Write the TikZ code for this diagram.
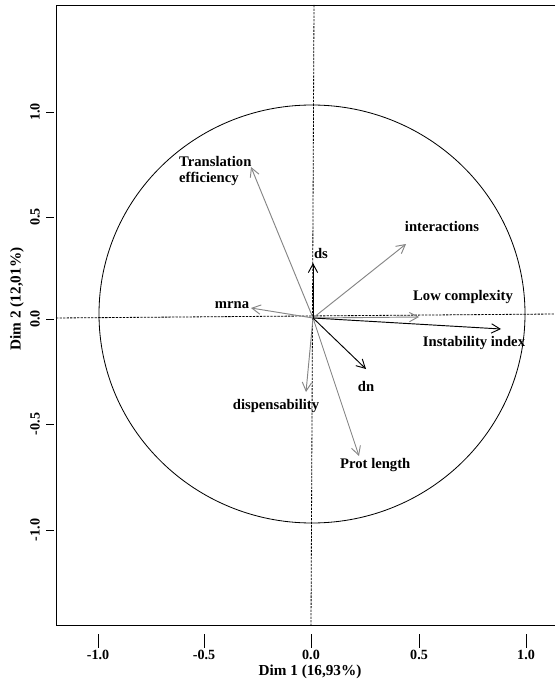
\documentclass[tikz,border=0pt]{standalone}
\usepackage{fontspec}
\setmainfont{Liberation Serif}
\usetikzlibrary{arrows, arrows.meta, positioning}
\tikzset{>={Straight Barb[length=2.6mm,width=2.8mm]}}
\tikzset{
  varlabel/.style={font=\bfseries\fontsize{12.5}{14}\selectfont, inner sep=0pt},
  varblack/.style={->, line width=0.8pt, black},
  vargray/.style={->, line width=0.8pt, black!48},
  axisdash/.style={dash pattern=on 2pt off 1pt, line width=0.7pt},
  ticklabel/.style={font=\bfseries\fontsize{12}{12}\selectfont, inner sep=0pt},
}

\begin{document}
\begin{tikzpicture}[x=0.03cm, y=-0.03cm]
    \useasboundingbox (0,0) rectangle (555,682);
    % box and axes through the origin
    \draw[line width=0.7pt] (555,5) -- (56,5) -- (56,625) -- (555,625);
    \draw[axisdash] (56,318) -- (555,314);
    \draw[axisdash] (314,5) -- (311,625);
    \draw[line width=0.7pt] (312,314) ellipse (213 and 209);
    % ticks
    \foreach \x/\t [count=\i] in {98/-1.0,204/-0.5,311/0.0,419/0.5,526/1.0}
    {
        \draw[line width=0.7pt] (\x,634) -- (\x,648);
        \node[ticklabel] (xtick\i) at (\x,655) {\t};
    }
    \foreach \y/\t [count=\i] in {112/1.0,217/0.5,319/0.0,424/-0.5,530/-1.0}
    {
        \draw[line width=0.7pt] (46,\y) -- (54,\y);
        \node[ticklabel, rotate=90] (ytick\i) at (35,\y) {\t};
    }
    \node[font=\bfseries\fontsize{13}{13}\selectfont, inner sep=0pt] (xtitle) at (310,672) {Dim 1 (16,93\%)};
    \node[font=\bfseries\fontsize{13}{13}\selectfont, inner sep=0pt, rotate=90] (ytitle) at (17,299) {Dim 2 (12,01\%)};
    % variables
    \coordinate (o) at (313,318);
    \coordinate (te) at (251,167);
    \coordinate (int) at (406,244);
    \coordinate (lc) at (419,317);
    \coordinate (mrna) at (251,308);
    \coordinate (disp) at (306,392);
    \coordinate (prot) at (359,456);
    \coordinate (ds) at (313,263);
    \coordinate (dn) at (366,369);
    \coordinate (ii) at (501,329);
    \foreach \v in {te,int,lc,mrna,disp,prot}
        \draw[vargray] (o) -- (\v);
    \foreach \v in {ds,dn,ii}
        \draw[varblack] (o) -- (\v);
    \node[varlabel, align=left, anchor=west] (telab) at (179,171) {Translation\\efficiency};
    \node[varlabel] (dslab) at (321,253) {ds};
    \node[varlabel] (intlab) at (442,226) {interactions};
    \node[varlabel] (lclab) at (463,297) {Low complexity};
    \node[varlabel] (iilab) at (474,343) {Instability index};
    \node[varlabel] (mrnalab) at (232,305) {mrna};
    \node[varlabel] (dnlab) at (366,386) {dn};
    \node[varlabel] (displab) at (276,406) {dispensability};
    \node[varlabel, anchor=west] (protlab) at (340,465) {Prot length};
\end{tikzpicture}
\end{document}
